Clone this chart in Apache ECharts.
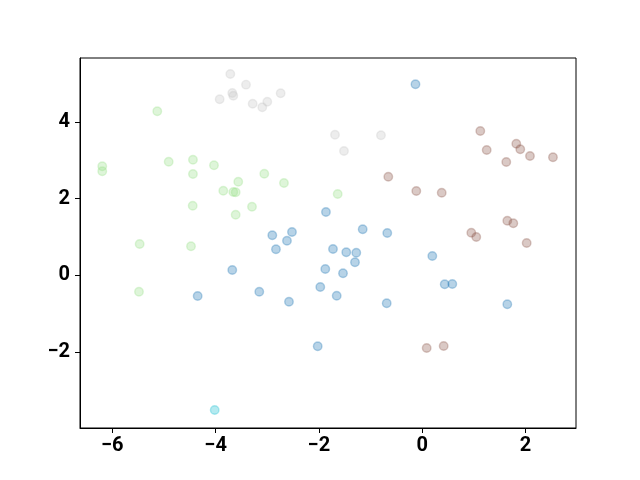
<!DOCTYPE html>
<html>
<head>
<meta charset="utf-8">
<script src="https://cdn.jsdelivr.net/npm/echarts@6/dist/echarts.min.js"></script>
<style>html,body{margin:0;padding:0;background:#fff}#c{width:640px;height:480px}</style>
</head>
<body>
<div id="c"></div>
<script>
var xTicks = [-6, -4, -2, 0, 2];
var yTicks = [-2, 0, 2, 4];

var clusterBlue = [
  [-0.130, 4.983], [-1.863, 1.651], [-2.902, 1.044], [-2.521, 1.130], [-2.618, 0.903],
  [-2.831, 0.678], [-1.152, 1.200], [-0.676, 1.104], [-1.727, 0.686], [-1.470, 0.600],
  [-1.276, 0.590], [-1.301, 0.339], [-1.876, 0.164], [-1.533, 0.052], [-1.973, -0.305],
  [-1.655, -0.532], [-3.154, -0.428], [-2.579, -0.689], [-0.687, -0.730], [-2.023, -1.852],
  [-3.677, 0.138], [-4.347, -0.540], [0.196, 0.504], [0.436, -0.235], [0.583, -0.227],
  [1.648, -0.757]
];
var clusterGreen = [
  [-5.129, 4.279], [-6.194, 2.844], [-6.194, 2.713], [-4.908, 2.964], [-4.438, 3.016],
  [-4.438, 2.643], [-4.031, 2.870], [-3.561, 2.442], [-3.851, 2.207], [-3.657, 2.173],
  [-3.611, 2.165], [-3.295, 1.790], [-4.443, 1.816], [-3.611, 1.581], [-5.470, 0.817],
  [-4.476, 0.757], [-3.057, 2.651], [-2.676, 2.408], [-1.636, 2.121], [-5.483, -0.428]
];
var clusterBrown = [
  [1.125, 3.765], [1.249, 3.269], [1.822, 3.433], [1.899, 3.287], [2.087, 3.112],
  [2.532, 3.079], [1.628, 2.956], [-0.656, 2.572], [-0.114, 2.199], [0.378, 2.155],
  [1.648, 1.424], [1.764, 1.357], [0.951, 1.111], [1.047, 0.999], [2.023, 0.843],
  [0.087, -1.897], [0.416, -1.845]
];
var clusterGrey = [
  [-3.715, 5.252], [-3.411, 4.974], [-3.677, 4.756], [-3.657, 4.686], [-3.921, 4.592],
  [-3.282, 4.477], [-2.999, 4.529], [-3.096, 4.383], [-2.740, 4.748], [-1.688, 3.668],
  [-0.798, 3.652], [-1.514, 3.243]
];
var clusterCyan = [
  [-4.017, -3.514]
];

var clusters = [
  {data: clusterBlue, color: '#1f77b4'},
  {data: clusterGreen, color: '#98df8a'},
  {data: clusterBrown, color: '#8c564b'},
  {data: clusterGrey, color: '#c7c7c7'},
  {data: clusterCyan, color: '#17becf'}
];

function fmt(v) { return String(v).replace('-', '\u2212'); }

var labelStyle = {fontFamily: 'Roboto', fontWeight: 'bold', fontSize: 20, color: '#000'};

var chart = echarts.init(document.getElementById('c'), null, {renderer: 'canvas'});
chart.setOption({
  animation: false,
  backgroundColor: '#fff',
  grid: {left: 80, right: 64, top: 58, bottom: 52, show: true, borderColor: '#000', borderWidth: 1, backgroundColor: 'transparent'},
  xAxis: {
    type: 'value', min: -6.625, max: 2.978,
    splitLine: {show: false},
    axisLine: {show: true, onZero: false, lineStyle: {color: '#000', width: 1}},
    axisTick: {show: true, length: 5, inside: false, customValues: xTicks, lineStyle: {color: '#000', width: 1}},
    axisLabel: Object.assign({customValues: xTicks, margin: 8, formatter: fmt}, labelStyle)
  },
  yAxis: {
    type: 'value', min: -3.984, max: 5.669,
    splitLine: {show: false},
    axisLine: {show: true, onZero: false, lineStyle: {color: '#000', width: 1}},
    axisTick: {show: true, length: 5, inside: false, customValues: yTicks, lineStyle: {color: '#000', width: 1}},
    axisLabel: Object.assign({customValues: yTicks, margin: 10, formatter: fmt}, labelStyle)
  },
  series: clusters.map(function (c) {
    return {
      type: 'scatter',
      data: c.data,
      symbol: 'circle',
      symbolSize: 8.5,
      itemStyle: {color: c.color, borderColor: c.color, borderWidth: 1.4, opacity: 0.32}
    };
  })
});
</script>
</body>
</html>
